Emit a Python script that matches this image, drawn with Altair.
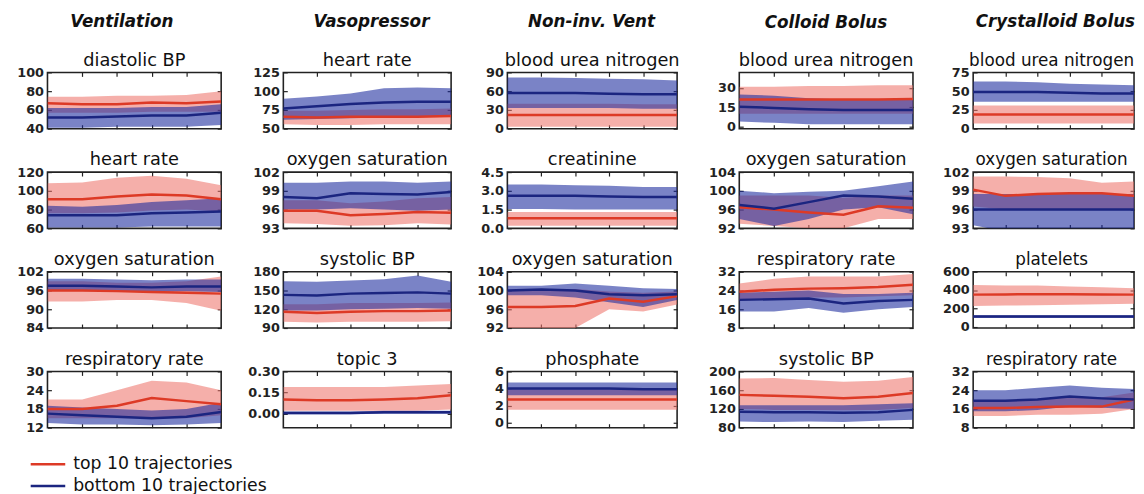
import altair as alt
import pandas as pd

# ---------------- data ----------------
X = [0, 1, 2, 3, 4, 5]
X_TICKS = [1, 2, 3, 4]
SERIES = ["top 10 trajectories", "bottom 10 trajectories"]
COLUMNS = ["Ventilation", "Vasopressor", "Non-inv. Vent", "Colloid Bolus", "Crystalloid Bolus"]

# each panel: title, y domain, y ticks, label format, top(mean, lo, hi), bottom(mean, lo, hi)
vent_dbp = dict(title="diastolic BP", domain=[40, 100], ticks=[40, 60, 80, 100], fmt="d",
                top=([67, 66, 66, 68, 67, 69], [57, 57, 57, 58, 58, 58], [74, 74, 75, 75, 76, 80]),
                bottom=([52, 52, 53, 54, 54, 57], [41, 41, 42, 42, 42, 44], [62, 62, 62, 63, 63, 66]))
vent_hr = dict(title="heart rate", domain=[60, 120], ticks=[60, 80, 100, 120], fmt="d",
               top=([91, 91, 94, 96, 95, 91], [76, 76, 77, 79, 80, 78], [108, 109, 114, 116, 113, 106]),
               bottom=([74, 74, 74, 76, 77, 78], [61, 61, 61, 62, 62, 62], [84, 83, 85, 88, 90, 92]))
vent_o2 = dict(title="oxygen saturation", domain=[84, 102], ticks=[84, 90, 96, 102], fmt="d",
               top=([96, 96, 95.8, 95.5, 95.3, 95], [92.5, 92.5, 93, 93, 92, 89.5], [99, 99, 98.5, 98.5, 99, 100.5]),
               bottom=([97.5, 97.5, 97.3, 97, 97.3, 97.3], [96, 96, 95.8, 95.5, 95.8, 95.5], [99.8, 99.8, 99.5, 99.3, 99.5, 99.5]))
vent_rr = dict(title="respiratory rate", domain=[12, 30], ticks=[12, 18, 24, 30], fmt="d",
               top=([18, 18, 19, 21.5, 20.5, 19.5], [15, 15, 15, 15, 15, 16], [21, 21, 24, 27, 26.5, 24]),
               bottom=([16.5, 16, 15.5, 15, 15.5, 17], [13.5, 13, 13, 12.8, 13, 13.5], [19, 18.5, 18, 17.5, 18, 20]))

vaso_hr = dict(title="heart rate", domain=[50, 125], ticks=[50, 75, 100, 125], fmt="d",
               top=([66, 65, 66, 66, 66, 67], [56, 55, 55, 56, 56, 56], [74, 74, 75, 76, 76, 77]),
               bottom=([77, 80, 83, 85, 86, 86], [62, 63, 64, 65, 66, 66], [90, 93, 97, 104, 105, 104]))
vaso_o2 = dict(title="oxygen saturation", domain=[93, 102], ticks=[93, 96, 99, 102], fmt="d",
               top=([95.8, 95.8, 95.1, 95.3, 95.6, 95.5], [93.8, 93.7, 93.4, 93.5, 93.8, 93.6], [97.5, 97.5, 97, 97.3, 97.8, 98]),
               bottom=([98, 97.8, 98.6, 98.5, 98.4, 98.8], [96, 96, 96.2, 96, 95.8, 96], [100.3, 100.3, 100.5, 100.5, 100.3, 100.5]))
vaso_sbp = dict(title="systolic BP", domain=[90, 180], ticks=[90, 120, 150, 180], fmt="d",
                top=([116, 114, 116, 117, 117, 118], [100, 99, 100, 100, 100, 101], [128, 128, 130, 130, 130, 131]),
                bottom=([143, 142, 145, 146, 147, 145], [118, 118, 120, 121, 122, 121], [165, 164, 166, 168, 174, 164]))
vaso_topic = dict(title="topic 3", domain=[-0.1, 0.3], ticks=[0.0, 0.15, 0.30], fmt=".2f",
                  top=([0.10, 0.095, 0.095, 0.10, 0.11, 0.13], [0.02, 0.02, 0.02, 0.02, 0.02, 0.03], [0.19, 0.19, 0.19, 0.19, 0.20, 0.21]),
                  bottom=([0.005, 0.005, 0.005, 0.01, 0.01, 0.01], [-0.005, -0.005, -0.005, 0.0, 0.0, 0.0], [0.015, 0.015, 0.015, 0.02, 0.02, 0.02]))

niv_bun = dict(title="blood urea nitrogen", domain=[0, 90], ticks=[0, 30, 60, 90], fmt="d",
               top=([22, 22, 22, 22, 22, 22], [3, 3, 3, 3, 3, 3], [40, 40, 40, 40, 39, 39]),
               bottom=([57, 57, 57, 56, 55, 55], [33, 33, 33, 33, 32, 32], [82, 82, 81, 80, 79, 77]))
niv_crea = dict(title="creatinine", domain=[0, 4.5], ticks=[0.0, 1.5, 3.0, 4.5], fmt=".1f",
                top=([0.8, 0.8, 0.8, 0.8, 0.8, 0.8], [0.2, 0.2, 0.2, 0.2, 0.2, 0.2], [1.3, 1.3, 1.3, 1.3, 1.3, 1.3]),
                bottom=([2.6, 2.6, 2.6, 2.55, 2.5, 2.5], [1.55, 1.55, 1.5, 1.5, 1.5, 1.5], [3.5, 3.5, 3.45, 3.4, 3.3, 3.3]))
niv_o2 = dict(title="oxygen saturation", domain=[92, 104], ticks=[92, 96, 100, 104], fmt="d",
              top=([96.5, 96.5, 96.7, 98.3, 97.6, 98.8], [92, 92, 92, 96, 95.5, 97], [100, 100, 100.3, 99.8, 99.5, 99.8]),
              bottom=([100, 100.2, 100, 99.2, 99, 99.2], [99, 99, 98.5, 97.5, 96.5, 98], [101, 101, 101.5, 101, 100.5, 100.3]))
niv_phos = dict(title="phosphate", domain=[-0.6, 6], ticks=[0, 2, 4, 6], fmt="d",
                top=([2.7, 2.7, 2.7, 2.7, 2.7, 2.7], [1.5, 1.5, 1.5, 1.5, 1.5, 1.5], [3.9, 3.9, 3.9, 3.9, 3.9, 3.9]),
                bottom=([4, 4, 4, 4, 3.9, 3.9], [3.2, 3.2, 3.2, 3.2, 3.2, 3.2], [4.7, 4.7, 4.7, 4.7, 4.7, 4.7]))

col_bun = dict(title="blood urea nitrogen", domain=[-1.5, 42], ticks=[0, 15, 30], fmt="d",
               top=([21, 21, 21, 21, 21, 21.5], [10, 10, 10, 10, 10, 10], [31, 31, 31.5, 31.5, 32, 32]),
               bottom=([15.5, 14.5, 13.5, 13, 13, 13], [4, 3, 2, 2, 2, 2], [25, 24, 22, 21, 21, 21]))
col_o2 = dict(title="oxygen saturation", domain=[92, 104], ticks=[92, 96, 100, 104], fmt="d",
              top=([96.5, 96, 95.4, 94.9, 96.7, 96.4], [93, 92.5, 92, 92, 94, 94], [99, 99, 99, 98.5, 99, 99]),
              bottom=([97, 96.2, 97.6, 99, 98.8, 98.3], [94, 92.5, 94, 96, 96.5, 95], [100, 99.5, 99.8, 100, 101, 102]))
col_rr = dict(title="respiratory rate", domain=[8, 32], ticks=[8, 16, 24, 32], fmt="d",
              top=([23.5, 24.3, 24.8, 25, 25.5, 26.5], [20, 20.5, 21, 21, 21.5, 22], [27, 29, 30, 30, 30, 31]),
              bottom=([20, 20.3, 20.6, 18.5, 19.5, 20], [15, 15, 16.5, 14.5, 16, 17], [23, 23.5, 24, 22.5, 22.5, 23]))
col_sbp = dict(title="systolic BP", domain=[80, 200], ticks=[80, 120, 160, 200], fmt="d",
               top=([150, 148, 146, 143, 146, 154], [120, 118, 118, 117, 118, 122], [185, 186, 182, 178, 180, 188]),
               bottom=([114, 113, 113, 112, 113, 118], [93, 92, 93, 92, 95, 97], [128, 128, 128, 128, 130, 132]))

cry_bun = dict(title="blood urea nitrogen", domain=[0, 75], ticks=[0, 25, 50, 75], fmt="d",
               top=([19, 19, 19, 19, 19, 19], [7, 7, 7, 7, 7, 7], [31, 31, 31, 31, 31, 31]),
               bottom=([49, 49, 49, 48, 47, 47], [36, 36, 36, 36, 36, 36], [63, 63, 62, 60, 59, 58]))
cry_o2 = dict(title="oxygen saturation", domain=[93, 102], ticks=[93, 96, 99, 102], fmt="d",
              top=([99.2, 98.2, 98.5, 98.6, 98.6, 98.2], [96.5, 96, 96, 96, 96, 96], [101.3, 101.3, 101.2, 101, 100.3, 100.5]),
              bottom=([96, 96, 96, 96, 96, 96], [93.5, 92.5, 92.5, 92.5, 92.5, 92.5], [98.5, 98.5, 98.5, 98.5, 98.5, 98.5]))
cry_plt = dict(title="platelets", domain=[-15, 600], ticks=[0, 200, 400, 600], fmt="d",
               top=([350, 352, 355, 355, 352, 350], [225, 230, 235, 240, 245, 250], [455, 450, 450, 440, 430, 420]),
               bottom=([110, 110, 110, 110, 110, 110], [95, 95, 95, 95, 95, 95], [125, 125, 125, 125, 125, 125]))
cry_rr = dict(title="respiratory rate", domain=[8, 32], ticks=[8, 16, 24, 32], fmt="d",
              top=([16.4, 16.4, 16.8, 17, 17, 20], [13, 13, 13.5, 13.5, 14, 16], [19.5, 19.5, 20, 21, 21, 23]),
              bottom=([19.5, 19.5, 20, 21.3, 20.5, 20], [15, 15, 15.5, 17, 16.5, 16], [24, 24, 25, 26, 25, 24.5]))

GRID = [
    [vent_dbp, vent_hr, vent_o2, vent_rr],
    [vaso_hr, vaso_o2, vaso_sbp, vaso_topic],
    [niv_bun, niv_crea, niv_o2, niv_phos],
    [col_bun, col_o2, col_rr, col_sbp],
    [cry_bun, cry_o2, cry_plt, cry_rr],
]

# ---------------- style ----------------
FONT = "DejaVu Sans"
BAND_COLORS = ["#ee756c", "#1a2a9c"]
LINE_COLORS = ["#dd3a26", "#1b2580"]
COL_WIDTHS = [176, 170, 172, 176, 163]
COL_EXTENTS = [43, 64, 58, 62, 62]
COL_DX = [6.5, 34, 25, 28.5, 30.5]
PANEL_DX = [0, 0, 0, 0, -2]
PANEL_TITLE_SIZE = [18, 18, 18, 18, 17]
PANEL_H = 57

fill_scale = alt.Scale(domain=SERIES, range=BAND_COLORS)
stroke_scale = alt.Scale(domain=SERIES, range=LINE_COLORS)
FRAME = alt.ViewBackground(stroke="#222", strokeWidth=1.6)


def panel(p, width, extent, tdx, tsize):
    rows = []
    for name, (m, lo, hi) in zip(SERIES, [p["top"], p["bottom"]]):
        for xi, a, b, c in zip(X, m, lo, hi):
            rows.append(dict(x=xi, series=name, mean=a, lo=b, hi=c))
    df = pd.DataFrame(rows)
    xs = alt.Scale(domain=[0, 5], nice=False, zero=False)
    ys = alt.Scale(domain=p["domain"], nice=False, zero=False)
    base = alt.Chart(df)

    tick_style = dict(title=None, domain=False, grid=False, tickSize=4, offset=-4,
                      tickColor="#222", tickWidth=1.2)
    x_bottom = alt.Axis(values=X_TICKS, labels=False, orient="bottom", minExtent=0, maxExtent=0, **tick_style)
    x_top = alt.Axis(values=X_TICKS, labels=False, orient="top", minExtent=0, maxExtent=0, **tick_style)
    y_left = alt.Axis(values=p["ticks"], format=p["fmt"], orient="left",
                      labelFont=FONT, labelFontWeight="bold", labelFontSize=13, labelColor="#222",
                      labelPadding=4, minExtent=extent, maxExtent=extent, **tick_style)
    y_right = alt.Axis(values=p["ticks"], labels=False, orient="right", minExtent=0, maxExtent=0, **tick_style)

    band = base.mark_area(opacity=0.58, clip=True).encode(
        x=alt.X("x:Q", scale=xs, axis=x_bottom),
        y=alt.Y("lo:Q", scale=ys, axis=y_left),
        y2="hi:Q",
        fill=alt.Fill("series:N", scale=fill_scale, legend=None),
    )
    line = base.mark_line(strokeWidth=2.5, clip=True).encode(
        x=alt.X("x:Q", scale=xs, axis=x_top),
        y=alt.Y("mean:Q", scale=ys, axis=y_right),
        stroke=alt.Stroke("series:N", scale=stroke_scale, legend=None),
        order=alt.Order("x:Q"),
    )
    top_label = p["ticks"][-1] == p["domain"][1]
    return alt.layer(band, line).resolve_axis(x="independent", y="independent").properties(
        width=width, height=PANEL_H, view=FRAME,
        title=alt.TitleParams(p["title"], font=FONT, fontSize=tsize, fontWeight="normal",
                              color="#111", anchor="middle", frame="group", dx=tdx,
                              offset=-3 if top_label else 2),
    )


columns = []
for name, panels, w, e, dx, pdx, ts in zip(COLUMNS, GRID, COL_WIDTHS, COL_EXTENTS, COL_DX,
                                           PANEL_DX, PANEL_TITLE_SIZE):
    col = alt.vconcat(*[panel(p, w, e, pdx, ts) for p in panels], spacing=44, bounds="flush",
                      title=alt.TitleParams(name, font=FONT, fontSize=17, fontWeight="bold",
                                            fontStyle="italic", color="#111", anchor="middle",
                                            offset=20, dx=dx))
    col = col.resolve_scale(x="independent", y="independent", fill="shared", stroke="shared")
    columns.append(col)

grid = alt.hconcat(*columns, spacing=0).resolve_scale(
    x="independent", y="independent", fill="shared", stroke="shared"
)

# legend drawn as a small keyed chart
legend_df = pd.DataFrame({"series": SERIES})
ly = alt.Y("series:N", sort=SERIES, axis=None, scale=alt.Scale(domain=SERIES))
lbase = alt.Chart(legend_df)
legend = alt.layer(
    lbase.mark_rule(strokeWidth=2.5).encode(
        y=ly, x=alt.value(-17), x2=alt.value(18),
        stroke=alt.Stroke("series:N", scale=stroke_scale, legend=None)),
    lbase.mark_text(align="left", baseline="middle", font=FONT, fontSize=17.5, color="#111").encode(
        y=ly, x=alt.value(26), text="series:N"),
).properties(width=260, height=44, view=alt.ViewBackground(strokeOpacity=0))

chart = alt.vconcat(grid, legend, spacing=18).resolve_scale(
    x="independent", y="independent", stroke="shared"
).properties(
    padding={"left": 0, "top": 2, "right": 0, "bottom": 0},
    background="white",
).configure_view(stroke="#222", strokeWidth=1.6)

chart.save("out.html", embed_options={"renderer": "svg", "actions": False})
